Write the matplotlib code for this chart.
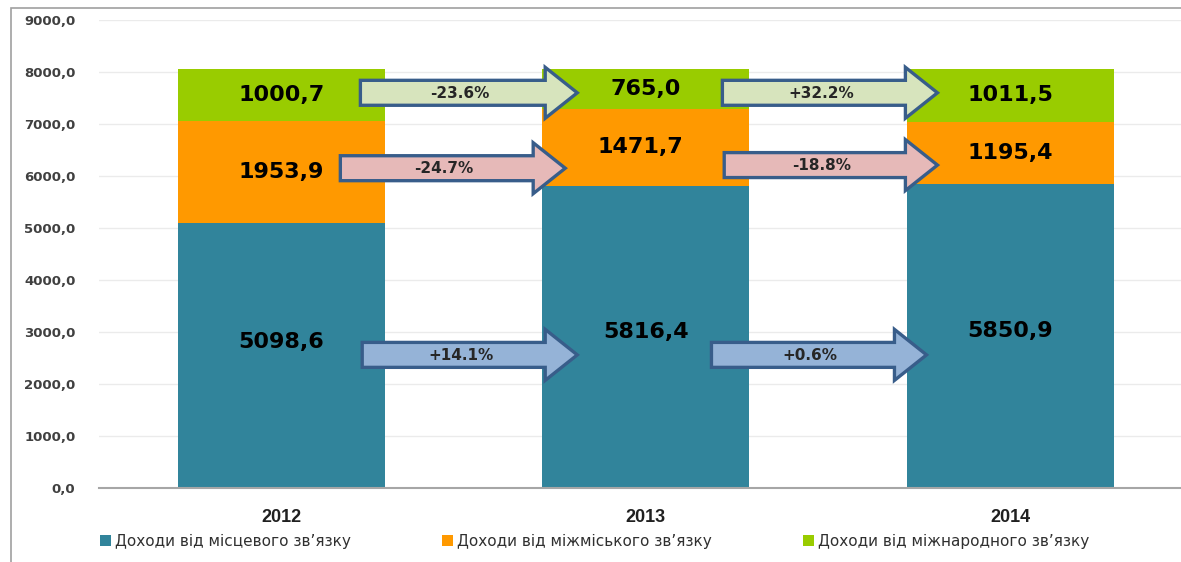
import matplotlib.pyplot as plt
from matplotlib.patches import FancyArrow, Rectangle
import numpy as np

years = ['2012', '2013', '2014']
local = [5098.6, 5816.4, 5850.9]
intercity = [1953.9, 1471.7, 1195.4]
intl = [1000.7, 765.0, 1011.5]
series_names = ['Доходи від місцевого зв’язку',
                'Доходи від міжміського зв’язку',
                'Доходи від міжнародного зв’язку']
change_intl = ['-23.6%', '+32.2%']
change_intercity = ['-24.7%', '-18.8%']
change_local = ['+14.1%', '+0.6%']

colors = ['#31849B', '#FF9900', '#99CC00']
arrow_fill = {'intl': '#D7E4BD', 'intercity': '#E6B9B8', 'local': '#95B3D7'}
arrow_edge = '#385D8A'

fig = plt.figure(figsize=(11.81, 5.62), dpi=100)
ax = fig.add_axes([99 / 1181, 1 - 488 / 562, 1 - 99 / 1181, (488 - 20) / 562])

x = np.arange(len(years))
w = 0.568
b1 = ax.bar(x, local, w, color=colors[0], zorder=2)
b2 = ax.bar(x, intercity, w, bottom=local, color=colors[1], zorder=2)
bottom3 = np.array(local) + np.array(intercity)
b3 = ax.bar(x, intl, w, bottom=bottom3, color=colors[2], zorder=2)

# value labels in the middle of each segment
label_font = dict(fontsize=16, fontweight='bold', family='DejaVu Sans',
                  ha='center', va='center', color='black', zorder=5)
for i in range(len(years)):
    yl = local[i] / 2 + (250 if i == 0 else 100)
    ax.text(x[i], yl, f'{local[i]:.1f}'.replace('.', ','), **label_font)
    ax.text(x[i] - (0.015 if i == 1 else 0), local[i] + intercity[i] / 2,
            f'{intercity[i]:.1f}'.replace('.', ','), **label_font)
    ax.text(x[i], bottom3[i] + intl[i] / 2, f'{intl[i]:.1f}'.replace('.', ','), **label_font)

# arrows between years: (x start, x tip, y centre)
arrow_rows = [
    ('intl', change_intl, [(0.217, 0.812, 7600), (1.21, 1.80, 7600)]),
    ('intercity', change_intercity, [(0.162, 0.779, 6150), (1.215, 1.80, 6210)]),
    ('local', change_local, [(0.222, 0.812, 2560), (1.18, 1.77, 2560)]),
]
body_h = 480
head_h = 980
head_l = 0.088
for key, texts, spots in arrow_rows:
    for (xs, xt, yc), t in zip(spots, texts):
        arr = FancyArrow(xs, yc, xt - xs, 0, width=body_h, head_width=head_h,
                         head_length=head_l, length_includes_head=True,
                         facecolor=arrow_fill[key], edgecolor=arrow_edge,
                         linewidth=2.4, zorder=4, joinstyle='miter')
        ax.add_patch(arr)
        ax.text((xs + xt - head_l) / 2 + 0.02, yc - 10, t, fontsize=11,
                fontweight='bold', family='DejaVu Sans', ha='center', va='center',
                color='#262626', zorder=6)

ax.set_ylim(0, 9000)
ax.set_xlim(-0.5, 2.468)
ax.set_yticks(np.arange(0, 9001, 1000))
ax.set_yticklabels([f'{v:.1f}'.replace('.', ',') for v in np.arange(0, 9001, 1000)],
                   fontsize=9.5, fontweight='bold', color='#404040', family='DejaVu Sans')
ax.set_xticks(x)
ax.set_xticklabels(years, fontsize=13, fontweight='bold', family='Liberation Sans',
                   color='#202020')
ax.tick_params(axis='both', length=0)
ax.tick_params(axis='y', pad=17)
ax.tick_params(axis='x', pad=15)
ax.grid(axis='y', color='#EBEBEB', linewidth=1, zorder=0)
for s in ['top', 'right', 'left']:
    ax.spines[s].set_visible(False)
ax.spines['bottom'].set_color('#A6A6A6')
ax.spines['bottom'].set_linewidth(1.5)

fig.legend([b1, b2, b3], series_names, loc='center left', ncol=3,
           bbox_to_anchor=(86 / 1181, 1 - 541 / 562), frameon=False,
           prop={'family': 'DejaVu Sans', 'size': 11}, labelcolor='#303030',
           handlelength=0.75, handleheight=0.75, handletextpad=0.25,
           columnspacing=5.95)

# outer frame of the original picture
fig.patches.append(Rectangle((11 / 1181, -0.1), 1.2, 1 - 8 / 562 + 0.1,
                             transform=fig.transFigure, fill=False,
                             edgecolor='#A0A0A0', linewidth=1.2))

fig.savefig('out.png', dpi=100)
